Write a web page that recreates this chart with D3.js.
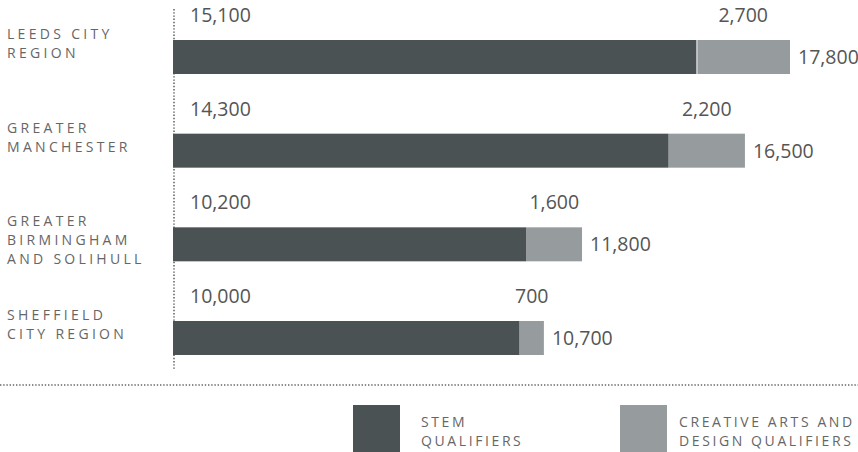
<!doctype html>
<html>
<head>
<meta charset="utf-8">
<script src="https://cdn.jsdelivr.net/npm/d3@7"></script>
<style>
  body { margin: 0; background: #fff; }
  text { font-family: "Open Sans", sans-serif; }
</style>
</head>
<body>
<script>
const regions = [
  ["LEEDS CITY", "REGION"],
  ["GREATER", "MANCHESTER"],
  ["GREATER", "BIRMINGHAM", "AND SOLIHULL"],
  ["SHEFFIELD", "CITY REGION"]
];
const stem = [15100, 14300, 10200, 10000];
const creative = [2700, 2200, 1600, 700];
const totals = [17800, 16500, 11800, 10700];
const legendLabels = [["STEM", "QUALIFIERS"], ["CREATIVE ARTS AND", "DESIGN QUALIFIERS"]];

const width = 858, height = 452;
const dark = "#4b5254", light = "#969c9e";
const fmt = d3.format(",");

const svg = d3.select("body").append("svg")
    .attr("width", width)
    .attr("height", height);

const x = d3.scaleLinear().domain([0, 17800]).range([173, 790]);
const y = d3.scaleBand().domain(d3.range(regions.length)).range([40, 355]).paddingInner(0.637).paddingOuter(0);

// dotted baseline behind the bars
svg.append("line")
    .attr("x1", 174).attr("x2", 174)
    .attr("y1", 9).attr("y2", 369)
    .attr("stroke", "#666").attr("stroke-width", 1.6)
    .attr("stroke-dasharray", "1.4,1.8");

const rows = svg.selectAll("g.row")
  .data(regions.map((r, i) => ({r, i})))
  .join("g").attr("class", "row");

rows.append("rect")
    .attr("x", d => x(0))
    .attr("y", d => y(d.i))
    .attr("width", d => x(stem[d.i]) - x(0))
    .attr("height", y.bandwidth())
    .attr("fill", dark);

rows.append("rect")
    .attr("x", d => x(stem[d.i]) + (d.i === 0 ? 1 : 0))
    .attr("y", d => y(d.i))
    .attr("width", d => x(stem[d.i] + creative[d.i]) - x(stem[d.i]) - (d.i === 0 ? 1 : 0))
    .attr("height", y.bandwidth())
    .attr("fill", light);

rows.append("text")
    .attr("x", 190)
    .attr("y", d => y(d.i) - 18)
    .attr("fill", "#555").attr("font-size", 19.5)
    .text(d => fmt(stem[d.i]));

rows.append("text")
    .attr("x", d => (x(stem[d.i]) + x(stem[d.i] + creative[d.i])) / 2)
    .attr("y", d => y(d.i) - 18)
    .attr("text-anchor", "middle")
    .attr("fill", "#555").attr("font-size", 19.5)
    .text(d => fmt(creative[d.i]));

rows.append("text")
    .attr("x", d => x(totals[d.i]) + 8)
    .attr("y", d => y(d.i) + y.bandwidth() / 2 + 7)
    .attr("fill", "#555").attr("font-size", 19.5)
    .text(d => fmt(totals[d.i]));

rows.append("text")
    .attr("fill", "#666").attr("font-size", 14)
    .attr("letter-spacing", 3.3)
    .selectAll("tspan")
    .data(d => d.r.map(line => ({line, d})))
    .join("tspan")
      .attr("x", 7)
      .attr("y", (t, j) => y(t.d.i) + y.bandwidth() / 2 - 18 + j * 19)
      .text(t => t.line);

// legend
svg.append("line")
    .attr("x1", 0).attr("x2", width)
    .attr("y1", 385).attr("y2", 385)
    .attr("stroke", "#666").attr("stroke-width", 1.6)
    .attr("stroke-dasharray", "1.4,1.8");

const legendX = [353, 620];
const legendTextX = [68, 59];
const legend = svg.selectAll("g.legend")
  .data(legendLabels.map((l, i) => ({l, i})))
  .join("g").attr("class", "legend")
    .attr("transform", d => `translate(${legendX[d.i]},405)`);

legend.append("rect")
    .attr("width", 47).attr("height", 47)
    .attr("fill", d => d.i === 0 ? dark : light);

legend.append("text")
    .attr("fill", "#666").attr("font-size", 14)
    .attr("letter-spacing", 2.6)
    .selectAll("tspan")
    .data(d => d.l.map(line => ({line, i: d.i})))
    .join("tspan")
      .attr("x", t => legendTextX[t.i])
      .attr("y", (t, j) => 22 + j * 19)
      .text(t => t.line);
</script>
</body>
</html>
